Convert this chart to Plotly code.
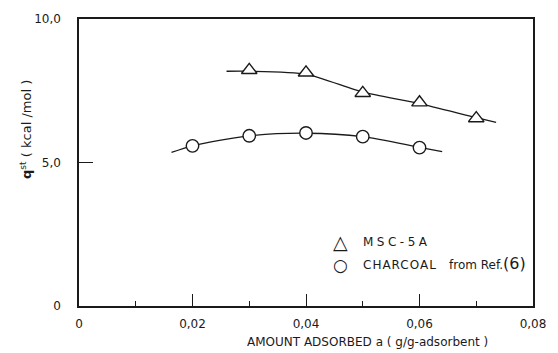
import plotly.graph_objects as go

# ---- data ----
msc_x = [0.03, 0.04, 0.05, 0.06, 0.07]
msc_y = [8.22, 8.13, 7.42, 7.09, 6.54]
msc_curve_x = [0.026, 0.03, 0.04, 0.05, 0.06, 0.07, 0.0735]
msc_curve_y = [8.18, 8.18, 8.08, 7.45, 7.05, 6.56, 6.40]

char_x = [0.02, 0.03, 0.04, 0.05, 0.06]
char_y = [5.58, 5.93, 6.03, 5.90, 5.52]
char_curve_x = [0.0163, 0.02, 0.03, 0.04, 0.05, 0.06, 0.064]
char_curve_y = [5.35, 5.58, 5.93, 6.02, 5.90, 5.53, 5.38]

x_tickvals = [0, 0.02, 0.04, 0.06, 0.08]
x_ticktext = ["0", "0,02", "0,04", "0,06", "0,08"]
y_tickvals = [0, 5, 10]
y_ticktext = ["0", "5,0", "10,0"]

FONT = "DejaVu Sans"
INK = "#1a1a1a"

fig = go.Figure()
fig.add_trace(go.Scatter(x=msc_curve_x, y=msc_curve_y, mode="lines",
                         line=dict(color=INK, width=1.3, shape="spline", smoothing=0.6),
                         showlegend=False, hoverinfo="skip"))
fig.add_trace(go.Scatter(x=char_curve_x, y=char_curve_y, mode="lines",
                         line=dict(color=INK, width=1.3, shape="spline", smoothing=0.8),
                         showlegend=False, hoverinfo="skip"))
fig.add_trace(go.Scatter(x=msc_x, y=msc_y, mode="markers", name="MSC-5A",
                         marker=dict(symbol="triangle-up", size=13.5, color="white",
                                     line=dict(color=INK, width=1.4)),
                         showlegend=False))
fig.add_trace(go.Scatter(x=char_x, y=char_y, mode="markers", name="CHARCOAL from Ref.(6)",
                         marker=dict(symbol="circle", size=12.5, color="white",
                                     line=dict(color=INK, width=1.4)),
                         showlegend=False))

L, R, T, B = 79, 12, 15, 47
W, H = 558, 353
pw, ph = W - L - R, H - T - B

def px(xp):
    return (xp - L) / pw

def py(yp):
    return (H - B - yp) / ph

fig.update_layout(
    width=W, height=H,
    margin=dict(l=L, r=R, t=T, b=B, pad=0),
    paper_bgcolor="white", plot_bgcolor="white",
    font=dict(family=FONT, size=12, color=INK),
    showlegend=False,
)
fig.update_xaxes(range=[0, 0.08], showgrid=False, zeroline=False,
                 showline=True, linecolor=INK, linewidth=1.5, mirror=True,
                 tickmode="array", tickvals=x_tickvals, ticktext=x_ticktext,
                 ticks="inside", ticklen=12, tickwidth=1.2, tickcolor=INK,
                 ticklabelstandoff=6,
                 minor=dict(dtick=0.01, ticks="inside", ticklen=5, tickwidth=1.2,
                            tickcolor=INK, showgrid=False),
                 tickfont=dict(size=12, color=INK))
fig.update_yaxes(range=[0, 10], showgrid=False, zeroline=False,
                 showline=True, linecolor=INK, linewidth=1.5, mirror=True,
                 tickmode="array", tickvals=y_tickvals, ticktext=y_ticktext,
                 ticks="inside", ticklen=14, tickwidth=1.2, tickcolor=INK,
                 ticklabelstandoff=14,
                 tickfont=dict(size=12, color=INK))

ann = [
    dict(text="AMOUNT ADSORBED a ( g/g-adsorbent )", x=px(376), y=py(342),
         xanchor="center", yanchor="middle", font=dict(size=12)),
    dict(text="<b>q</b><sup>st</sup> ( kcal /mol )", x=px(25), y=py(127),
         xanchor="center", yanchor="middle", textangle=-90, font=dict(size=13)),
    dict(text="△", x=px(348), y=py(241), xanchor="center", yanchor="middle",
         font=dict(size=19)),
    dict(text='<span style="letter-spacing:3.5px">MSC-5A</span>', x=px(369), y=py(241),
         xanchor="left", yanchor="middle", font=dict(size=12)),
    dict(text="○", x=px(348), y=py(264), xanchor="center", yanchor="middle",
         font=dict(size=17)),
    dict(text='<span style="letter-spacing:1px">CHARCOAL</span>', x=px(369), y=py(264),
         xanchor="left", yanchor="middle", font=dict(size=12)),
    dict(text='from Ref.<span style="font-size:16px">(6)</span>', x=px(458), y=py(263),
         xanchor="left", yanchor="middle", font=dict(size=12)),
]
for a in ann:
    a.update(xref="paper", yref="paper", showarrow=False)
fig.update_layout(annotations=ann)

fig.write_html("out.html")
